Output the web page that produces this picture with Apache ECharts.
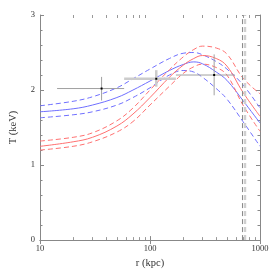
<!DOCTYPE html>
<html><head><meta charset="utf-8">
<script src="https://cdn.jsdelivr.net/npm/echarts@6/dist/echarts.min.js"></script>
<style>html,body{margin:0;padding:0;background:#fff}#c{width:274px;height:274px}</style>
</head><body><div id="c"></div>
<script>
// radii (kpc) at which the model curves are sampled
const radii = [10, 20, 30, 50, 70, 100, 150, 200, 250, 300, 400, 500, 700, 1000];
const blueFit   = [1.71, 1.75, 1.80, 1.90, 2.00, 2.12, 2.26, 2.34, 2.375, 2.35, 2.24, 2.13, 1.86, 1.56];
const blueUpper = [1.79, 1.85, 1.91, 2.03, 2.15, 2.28, 2.42, 2.49, 2.50, 2.47, 2.38, 2.28, 2.07, 1.76];
const blueLower = [1.63, 1.67, 1.71, 1.80, 1.90, 2.03, 2.20, 2.26, 2.24, 2.17, 2.02, 1.88, 1.58, 1.25];
const redFit    = [1.25, 1.31, 1.37, 1.52, 1.68, 1.90, 2.17, 2.33, 2.42, 2.46, 2.42, 2.32, 1.97, 1.65];
const redUpper  = [1.32, 1.37, 1.43, 1.59, 1.76, 2.00, 2.27, 2.44, 2.54, 2.585, 2.56, 2.48, 2.16, 1.95];
const redLower  = [1.20, 1.25, 1.31, 1.44, 1.58, 1.80, 2.05, 2.22, 2.31, 2.345, 2.30, 2.20, 1.80, 1.45];

// measured points: r, T, r_lo, r_hi, T_lo, T_hi
const pointR   = [36.3, 114, 383];
const pointT   = [2.02, 2.15, 2.20];
const pointRlo = [14.3, 58.2, 172];
const pointRhi = [58.2, 172, 590];
const pointTlo = [1.86, 2.045, 1.93];
const pointThi = [2.175, 2.265, 2.475];

// vertical reference radii
const vRadius1 = 693;
const vRadius2 = 730;

// tick labels / minor ticks
const xTickLabels = ['10', '100', '1000'];
const xMinorTicks = [20,30,40,50,60,70,80,90,200,300,400,500,600,700,800,900];
const yTicks = [0, 1, 2, 3];

const zip = (xs, ys) => xs.map((x, i) => [x, ys[i]]);
const errData = pointR.map((r, i) => [r, pointT[i], pointRlo[i], pointRhi[i], pointTlo[i], pointThi[i]]);
const errStyle = [{c:'#a0a0a0', w:1}, {c:'#cccccc', w:2.5}, {c:'#a0a0a0', w:1}];

const BLUE = '#6f6fff', RED = '#ff7070';
const font = 'Liberation Serif';

function curve(data, color, dashed) {
  return {
    type: 'line', data: data, smooth: 0.4, symbol: 'none', silent: true,
    lineStyle: {color: color, width: 1, type: dashed ? [5, 3] : 'solid'},
    z: 2
  };
}

const chart = echarts.init(document.getElementById('c'), null, {renderer: 'canvas'});
const axisCommon = {
  axisLine: {show: true, lineStyle: {color: '#888', width: 1}},
  splitLine: {show: false}
};
chart.setOption({
  animation: false,
  grid: {left: 30, right: 14, top: 15, bottom: 30, containLabel: false},
  xAxis: [
    Object.assign({
      type: 'log', logBase: 10, min: 10, max: 1000, position: 'bottom',
      name: 'r (kpc)', nameLocation: 'middle', nameGap: 17,
      nameTextStyle: {fontFamily: font, fontSize: 10.5, color: '#333'},
      axisTick: {show: true, inside: true, length: 4, lineStyle: {color: '#888'}},
      axisLabel: {fontFamily: font, fontSize: 8.5, color: '#333', margin: 4,
        formatter: v => { const s = String(Math.round(v)); return xTickLabels.includes(s) ? s : ''; }}
    }, axisCommon),
    Object.assign({
      type: 'log', logBase: 10, min: 10, max: 1000, position: 'top',
      axisTick: {show: true, inside: true, length: 4, lineStyle: {color: '#888'}},
      axisLabel: {show: false}
    }, axisCommon)
  ],
  yAxis: [
    Object.assign({
      type: 'value', min: 0, max: 3, interval: 1, position: 'left',
      name: 'T (keV)', nameLocation: 'middle', nameGap: 21, nameRotate: 90,
      nameTextStyle: {fontFamily: font, fontSize: 10.5, color: '#333'},
      axisTick: {show: true, inside: true, length: 4, lineStyle: {color: '#888'}},
      minorTick: {show: true, splitNumber: 5, length: 2.5, lineStyle: {color: '#888'}},
      axisLabel: {fontFamily: font, fontSize: 8.5, color: '#333', margin: 5,
        formatter: v => yTicks.includes(v) ? String(v) : ''}
    }, axisCommon),
    Object.assign({
      type: 'value', min: 0, max: 3, interval: 1, position: 'right',
      axisTick: {show: true, inside: true, length: 4, lineStyle: {color: '#888'}},
      minorTick: {show: true, splitNumber: 5, length: 2.5, lineStyle: {color: '#888'}},
      axisLabel: {show: false}
    }, axisCommon)
  ],
  series: [
    curve(zip(radii, blueUpper), BLUE, true),
    curve(zip(radii, blueLower), BLUE, true),
    curve(zip(radii, blueFit), BLUE, false),
    curve(zip(radii, redUpper), RED, true),
    curve(zip(radii, redLower), RED, true),
    curve(zip(radii, redFit), RED, false),
    {
      type: 'line', data: [[vRadius1, 0], [vRadius1, 3]], symbol: 'none', silent: true,
      lineStyle: {color: '#888', width: 1, type: [5, 3]}, z: 3
    },
    {
      type: 'line', data: [[vRadius2, 0], [vRadius2, 3]], symbol: 'none', silent: true,
      lineStyle: {color: '#cfcfcf', width: 2.5, type: [5, 3]}, z: 3
    },
    {
      type: 'custom', data: xMinorTicks.map(v => [v, 0]), silent: true, clip: false, z: 5,
      encode: {x: 0, y: 1},
      renderItem: function (params, api) {
        const b = api.coord([api.value(0), 0]);
        const t = api.coord([api.value(0), 3]);
        const x = Math.round(b[0]) + 0.5;
        return {type: 'group', children: [
          {type: 'line', shape: {x1: x, y1: b[1], x2: x, y2: b[1] - 3}, style: {stroke: '#999', lineWidth: 1}},
          {type: 'line', shape: {x1: x, y1: t[1], x2: x, y2: t[1] + 3}, style: {stroke: '#999', lineWidth: 1}}
        ]};
      }
    },
    {
      type: 'custom', data: errData, silent: true, clip: false, z: 6,
      encode: {x: 0, y: 1},
      renderItem: function (params, api) {
        const x = api.value(0), y = api.value(1);
        const c = api.coord([x, y]);
        const l = api.coord([api.value(2), y]);
        const r = api.coord([api.value(3), y]);
        const lo = api.coord([x, api.value(4)]);
        const hi = api.coord([x, api.value(5)]);
        const s = errStyle[params.dataIndex];
        return {type: 'group', children: [
          {type: 'line', shape: {x1: l[0], y1: l[1], x2: r[0], y2: r[1]}, style: {stroke: s.c, lineWidth: s.w}},
          {type: 'line', shape: {x1: lo[0], y1: lo[1], x2: hi[0], y2: hi[1]}, style: {stroke: s.c, lineWidth: s.w}},
          {type: 'rect', shape: {x: c[0] - 1, y: c[1] - 1, width: 2, height: 2}, style: {fill: '#000'}}
        ]};
      }
    }
  ]
});
</script>
</body></html>
